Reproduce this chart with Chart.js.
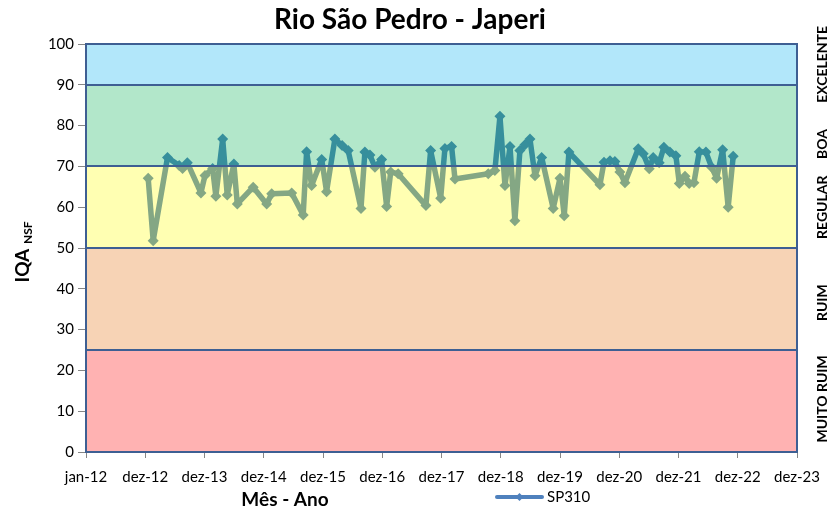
<!DOCTYPE html>
<html lang="pt-BR">
<head>
    <meta charset="UTF-8">
    <title>Rio São Pedro - Japeri</title>
    <!-- Chart.js CDN -->
    <script src="https://cdn.jsdelivr.net/npm/chart.js"></script>
    <style>
        html, body { margin: 0; padding: 0; background: #fff; }
        .chart-box { width: 836px; height: 512px; }
    </style>
</head>
<body>

    <div class="chart-box">
        <canvas id="iqaChart" width="836" height="512"></canvas>
    </div>

    <script>
        // Sampling dates and IQA NSF values (station SP310)
        const sampleDates = [
            '2013-01-18', '2013-02-18', '2013-05-17', '2013-07-28', '2013-08-18', '2013-09-16',
            '2013-12-09', '2014-01-03', '2014-02-19', '2014-03-11', '2014-04-22', '2014-05-20',
            '2014-06-30', '2014-07-21', '2014-10-27', '2015-01-18', '2015-02-18', '2015-06-21',
            '2015-08-31', '2015-09-21', '2015-10-22', '2015-12-23', '2016-01-22', '2016-03-13',
            '2016-04-27', '2016-06-03', '2016-08-21', '2016-09-14', '2016-10-15', '2016-11-15',
            '2016-12-26', '2017-01-26', '2017-02-20', '2017-04-07', '2017-09-25', '2017-10-24',
            '2017-12-25', '2018-01-20', '2018-03-02', '2018-03-23', '2018-10-14', '2018-11-24',
            '2018-12-25', '2019-01-25', '2019-02-25', '2019-03-27', '2019-04-27', '2019-05-28',
            '2019-06-28', '2019-07-29', '2019-09-08', '2019-11-18', '2019-12-30', '2020-01-25',
            '2020-02-23', '2020-09-01', '2020-09-26', '2020-11-02', '2020-12-02', '2021-01-02',
            '2021-02-02', '2021-04-25', '2021-05-26', '2021-07-02', '2021-07-26', '2021-09-01',
            '2021-09-30', '2021-11-06', '2021-12-13', '2022-01-03', '2022-02-07', '2022-03-05',
            '2022-04-03', '2022-05-06', '2022-06-16', '2022-07-21', '2022-08-21', '2022-09-27',
            '2022-10-31', '2022-12-01'
        ];
        const iqaValues = [
            67.1, 51.8, 72.2, 70.2, 69.5, 70.9,
            63.5, 67.8, 69.5, 62.7, 76.7, 63.0,
            70.6, 60.8, 64.9, 60.8, 63.3, 63.5,
            58.1, 73.6, 65.3, 71.7, 63.8, 76.7,
            75.1, 73.9, 59.7, 73.5, 72.8, 69.8,
            71.7, 60.2, 68.6, 68.2, 60.4, 73.9,
            62.2, 74.4, 74.9, 66.9, 68.2, 69.0,
            82.3, 65.3, 74.9, 56.7, 73.9, 75.3,
            76.7, 67.7, 72.2, 59.7, 67.1, 57.9,
            73.5, 65.5, 71.0, 71.4, 71.2, 68.6,
            66.0, 74.3, 73.1, 69.4, 72.2, 70.9,
            74.7, 73.5, 72.6, 65.8, 67.6, 65.8,
            66.0, 73.6, 73.5, 69.8, 67.1, 74.1,
            60.0, 72.5
        ];
        const xTickLabels = [
            'jan-12', 'dez-12', 'dez-13', 'dez-14', 'dez-15', 'dez-16', 'dez-17',
            'dez-18', 'dez-19', 'dez-20', 'dez-21', 'dez-22', 'dez-23'
        ];
        const bandLimits = [0, 25, 50, 70, 90, 100];
        const bandNames = ['MUITO RUIM', 'RUIM', 'REGULAR', 'BOA', 'EXCELENTE'];

        // x axis is in days counted from 1 Jan 2012 (Excel date axis, major unit 365 days)
        const axisStart = Date.UTC(2012, 0, 1);
        const dayMs = 86400000;
        const points = sampleDates.map((d, i) => ({
            x: (Date.parse(d) - axisStart) / dayMs,
            y: iqaValues[i]
        }));

        const bandFill = [
            'rgba(255, 0, 0, 0.3)',
            'rgba(228, 108, 10, 0.3)',
            'rgba(255, 255, 0, 0.3)',
            'rgba(0, 176, 80, 0.3)',
            'rgba(0, 176, 240, 0.3)'
        ];
        const bandNameAt = [13, 36.6, 60, 75.5, 95]; // where the side labels sit (in IQA units)
        const FONT = 'Lato, "Open Sans", sans-serif';

        // Bands are painted over the line, like in the original sheet
        const iqaDecor = {
            id: 'iqaDecor',
            afterDatasetsDraw(chart) {
                const { ctx, chartArea: a, scales: { y } } = chart;
                ctx.save();
                for (let i = 0; i < bandFill.length; i++) {
                    const top = y.getPixelForValue(bandLimits[i + 1]);
                    const bottom = y.getPixelForValue(bandLimits[i]);
                    ctx.fillStyle = bandFill[i];
                    ctx.fillRect(a.left, top, a.right - a.left, bottom - top);
                }
                ctx.strokeStyle = '#3E5F93';
                ctx.lineWidth = 2;
                for (let i = 1; i < bandLimits.length - 1; i++) {
                    const py = Math.round(y.getPixelForValue(bandLimits[i]));
                    ctx.beginPath();
                    ctx.moveTo(a.left, py);
                    ctx.lineTo(a.right, py);
                    ctx.stroke();
                }
                ctx.strokeRect(a.left, a.top, a.right - a.left, a.bottom - a.top);
                ctx.restore();
            },
            afterDraw(chart) {
                const { ctx, chartArea: a, scales: { y } } = chart;
                ctx.save();
                ctx.fillStyle = '#000';

                // title
                ctx.font = 'bold 28px ' + FONT;
                ctx.textAlign = 'center';
                ctx.textBaseline = 'middle';
                ctx.fillText('Rio São Pedro - Japeri', 410, 20);

                // x axis title
                ctx.font = 'bold 19px ' + FONT;
                ctx.fillText('Mês - Ano', 285, 500);

                // y axis title with subscript
                ctx.save();
                ctx.translate(22, 252);
                ctx.rotate(-Math.PI / 2);
                ctx.textAlign = 'left';
                ctx.textBaseline = 'alphabetic';
                ctx.font = 'bold 19px ' + FONT;
                const w1 = ctx.measureText('IQA ').width;
                ctx.font = 'bold 12px ' + FONT;
                const w2 = ctx.measureText('NSF').width;
                const start = -(w1 + w2) / 2;
                ctx.font = 'bold 19px ' + FONT;
                ctx.fillText('IQA ', start, 7);
                ctx.font = 'bold 12px ' + FONT;
                ctx.fillText('NSF', start + w1, 10);
                ctx.restore();

                // band names on the right
                ctx.font = 'bold 14px ' + FONT;
                bandNames.forEach((name, i) => {
                    ctx.save();
                    ctx.translate(a.right + 25, y.getPixelForValue(bandNameAt[i]));
                    ctx.rotate(-Math.PI / 2);
                    ctx.textAlign = 'center';
                    ctx.textBaseline = 'middle';
                    ctx.fillText(name, 0, 0);
                    ctx.restore();
                });

                // legend
                const lx = 497, ly = 497;
                ctx.strokeStyle = '#4F81BD';
                ctx.lineWidth = 4;
                ctx.lineCap = 'round';
                ctx.beginPath();
                ctx.moveTo(lx, ly);
                ctx.lineTo(lx + 45, ly);
                ctx.stroke();
                ctx.fillStyle = '#4F81BD';
                ctx.beginPath();
                ctx.moveTo(lx + 22.5, ly - 4);
                ctx.lineTo(lx + 26.5, ly);
                ctx.lineTo(lx + 22.5, ly + 4);
                ctx.lineTo(lx + 18.5, ly);
                ctx.closePath();
                ctx.fill();
                ctx.fillStyle = '#000';
                ctx.font = '15px ' + FONT;
                ctx.textAlign = 'left';
                ctx.textBaseline = 'middle';
                ctx.fillText('SP310', lx + 50, ly);
                ctx.restore();
            }
        };

        const ctx = document.getElementById('iqaChart').getContext('2d');
        const iqaChart = new Chart(ctx, {
            type: 'line',
            data: {
                datasets: [{
                    label: 'SP310',
                    data: points,
                    borderColor: '#4F81BD',
                    backgroundColor: '#4F81BD',
                    borderWidth: 5.5,
                    borderJoinStyle: 'round',
                    borderCapStyle: 'round',
                    pointStyle: 'rectRot',
                    pointRadius: 5.5,
                    pointBorderWidth: 0,
                    pointBackgroundColor: '#4F81BD',
                    tension: 0,
                    fill: false
                }]
            },
            options: {
                responsive: false,
                animation: false,
                devicePixelRatio: 1,
                layout: {
                    padding: { top: 44, right: 39, left: 0, bottom: 0 }
                },
                plugins: {
                    legend: { display: false },
                    tooltip: { enabled: false },
                    title: { display: false }
                },
                scales: {
                    x: {
                        type: 'linear',
                        min: 0,
                        max: 4380,
                        afterFit: (scale) => { scale.height = 60; },
                        ticks: {
                            stepSize: 365,
                            maxTicksLimit: 20,
                            autoSkip: false,
                            maxRotation: 0,
                            padding: 10,
                            color: '#000',
                            font: { family: FONT, size: 15 },
                            callback: (value, index) => xTickLabels[index]
                        },
                        grid: {
                            drawOnChartArea: false,
                            tickLength: 6,
                            color: '#868686'
                        },
                        border: { color: '#868686' }
                    },
                    y: {
                        min: 0,
                        max: 100,
                        afterFit: (scale) => { scale.width = 86; },
                        ticks: {
                            stepSize: 10,
                            padding: 4,
                            color: '#000',
                            font: { family: FONT, size: 15 }
                        },
                        grid: {
                            drawOnChartArea: false,
                            tickLength: 8,
                            color: '#868686'
                        },
                        border: { color: '#868686' }
                    }
                }
            },
            plugins: [iqaDecor]
        });
    </script>

</body>
</html>
